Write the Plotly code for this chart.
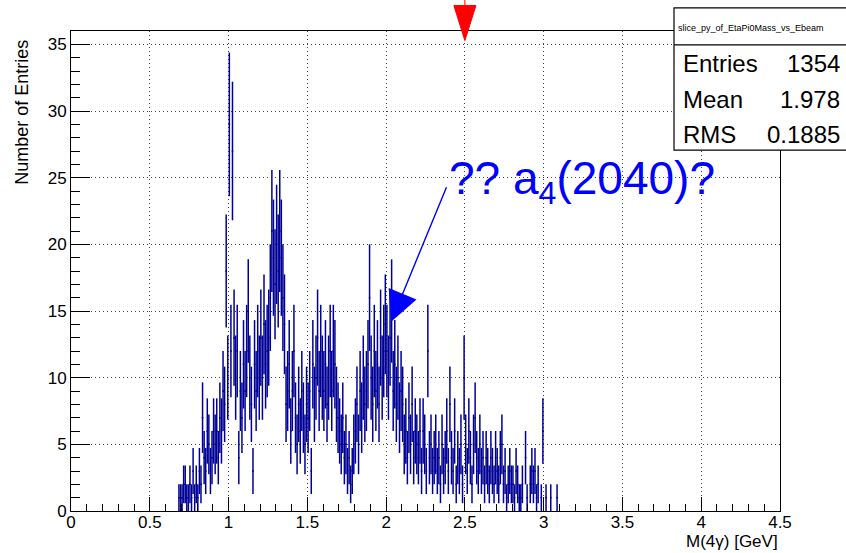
import numpy as np
import plotly.graph_objects as go

# M(4γ) spectrum, 0.01 GeV bins starting at 0.68 GeV
hist_lo = 0.68
bin_w = 0.01
counts = [
    1, 1,
    1, 2, 2, 1, 1, 2, 1, 3, 1, 2,          # 0.70
    1, 3, 2, 7, 4, 3, 6, 5, 3, 4,          # 0.80
    6, 5, 6, 4, 7, 6, 9, 8, 18, 10,        # 0.90
    29, 12, 27, 13, 10, 12, 4, 9, 7, 11,   # 1.00
    9, 12, 15, 10, 8, 3, 11, 9, 12, 10,    # 1.10
    13, 10, 14, 11, 12, 13, 16, 21, 19, 17,  # 1.20
    20, 18, 21, 19, 16, 14, 8, 9, 11, 6,   # 1.30
    9, 12, 7, 5, 8, 6, 9, 7, 5, 8,         # 1.40
    7, 9, 3, 11, 8, 10, 13, 9, 12, 10,     # 1.50
    9, 11, 8, 10, 12, 9, 12, 11, 8, 7,     # 1.60
    6, 5, 7, 4, 5, 3, 4, 2, 3, 5,          # 1.70
    6, 8, 5, 9, 7, 10, 8, 9, 11, 16,       # 1.80
    10, 8, 12, 9, 11, 8, 13, 10, 12, 14,   # 1.90
    12, 10, 13, 15, 9, 11, 8, 10, 7, 9,    # 2.00
    8, 5, 6, 4, 7, 5, 8, 4, 6, 5,          # 2.10
    4, 6, 3, 6, 5, 3, 12, 4, 5, 3,         # 2.20
    4, 5, 3, 4, 2, 5, 3, 4, 6, 3,          # 2.30
    8, 4, 3, 6, 2, 4, 3, 5, 2, 10,         # 2.40
    5, 3, 6, 4, 2, 5, 7, 4, 3, 5,          # 2.50
    3, 4, 2, 4, 3, 2, 4, 3, 2, 4,          # 2.60
    3, 2, 4, 5, 2, 3, 1, 2, 3, 2,          # 2.70
    2, 1, 3, 2, 1, 1, 2, 0, 4, 1,          # 2.80
    0, 2, 3, 2, 3, 1, 2, 0, 1, 6,          # 2.90
    0, 1, 0, 0, 1, 0, 0, 0, 1, 0,          # 3.00
]

stats_name = "slice_py_of_EtaPi0Mass_vs_Ebeam"
stats_rows = [("Entries", "1354"), ("Mean", "1.978"), ("RMS", "0.1885")]

x_range = [0, 4.5]
y_range = [0, 36]
cut_value = 2.5                      # red marker on the top edge
label_text = "?? a<sub>4</sub>(2040)?"
label_pos = (2.387, 24.4)            # tail of the arrow / text anchor
arrow_tip = (2.032, 14.2)

FONT = "Liberation Sans, Arial, Helvetica, sans-serif"
HIST_COLOR = "#000096"

n = np.array(counts, dtype=float)
centers = hist_lo + bin_w * (np.arange(len(n)) + 0.5)
keep = n > 0

fig = go.Figure()
fig.add_trace(go.Scatter(
    x=centers[keep], y=n[keep], mode="markers",
    marker=dict(size=1, color=HIST_COLOR),
    error_y=dict(type="data", array=np.sqrt(n[keep]), width=0,
                 thickness=1.5, color=HIST_COLOR),
    error_x=dict(type="constant", value=bin_w / 2, width=0,
                 thickness=1.5, color=HIST_COLOR),
    showlegend=False, hoverinfo="skip",
))

axis_common = dict(
    showline=True, linecolor="black", linewidth=1, mirror=True,
    showgrid=True, gridcolor="#444444", gridwidth=1, griddash="1px,3px",
    zeroline=False, ticks="inside", tickcolor="black", tickwidth=1,
    tickfont=dict(family=FONT, size=17, color="black"),
)
fig.update_xaxes(range=x_range, dtick=0.5, ticklen=14, ticklabelstandoff=-4,
                 minor=dict(dtick=0.1, ticks="inside", ticklen=7,
                            tickcolor="black", showgrid=False),
                 **axis_common)
fig.update_yaxes(range=y_range, dtick=5, ticklen=19,
                 minor=dict(dtick=1, ticks="inside", ticklen=9,
                            tickcolor="black", showgrid=False),
                 **axis_common)

annotations = [
    dict(text="Number of Entries", textangle=-90, xref="paper", yref="paper",
         x=-0.069, y=0.985, xanchor="center", yanchor="top", showarrow=False,
         font=dict(family=FONT, size=18, color="black")),
    dict(text="M(4γ) [GeV]", xref="paper", yref="paper", x=1.0, y=-0.087,
         xanchor="right", yanchor="bottom", showarrow=False,
         font=dict(family=FONT, size=17, color="black")),
    # blue label and its arrow
    dict(text=label_text, xref="x", yref="y", x=label_pos[0], y=label_pos[1] + 0.3,
         xanchor="left", yanchor="middle", showarrow=False,
         font=dict(family=FONT, size=46, color="#0000ff")),
    dict(text="", xref="x", yref="y", x=arrow_tip[0], y=arrow_tip[1],
         axref="x", ayref="y", ax=label_pos[0], ay=label_pos[1],
         showarrow=True, arrowhead=2, arrowsize=4.3, arrowwidth=1.4,
         arrowcolor="#0000ff", standoff=0),
    # statistics box
    dict(text=stats_name, xref="paper", yref="paper", x=0.959, y=1.006,
         xanchor="center", yanchor="middle", showarrow=False,
         font=dict(family=FONT, size=9, color="black")),
]
row_y = [0.933, 0.858, 0.785]
for (name, val), yy in zip(stats_rows, row_y):
    annotations.append(dict(text=name, xref="paper", yref="paper", x=0.860, y=yy,
                            xanchor="left", yanchor="middle", showarrow=False,
                            font=dict(family=FONT, size=24, color="black")))
    annotations.append(dict(text=val, xref="paper", yref="paper", x=1.0875, y=yy,
                            xanchor="right", yanchor="middle", showarrow=False,
                            font=dict(family=FONT, size=24, color="black")))

shapes = [
    dict(type="rect", xref="paper", yref="paper", x0=0.8505, x1=1.12,
         y0=0.752, y1=1.048, line=dict(color="black", width=1.2),
         fillcolor="white", layer="above"),
    dict(type="line", xref="paper", yref="paper", x0=0.8505, x1=1.12,
         y0=0.971, y1=0.971, line=dict(color="black", width=1.2)),
    # red marker at the cut value
    dict(type="path", xref="x", yref="paper",
         path=f"M {cut_value - 0.07},1.053 L {cut_value + 0.07},1.053 L {cut_value},0.98 Z",
         fillcolor="#ff0000", line=dict(color="#ff0000", width=1)),
    dict(type="line", xref="x", yref="paper", x0=cut_value, x1=cut_value,
         y0=1.05, y1=1.08, line=dict(color="#ff0000", width=1)),
]

fig.update_layout(
    width=846, height=553,
    margin=dict(l=71, r=66, t=31, b=42),
    paper_bgcolor="white", plot_bgcolor="white",
    annotations=annotations, shapes=shapes,
    font=dict(family=FONT),
)

fig.write_html("out.html")
